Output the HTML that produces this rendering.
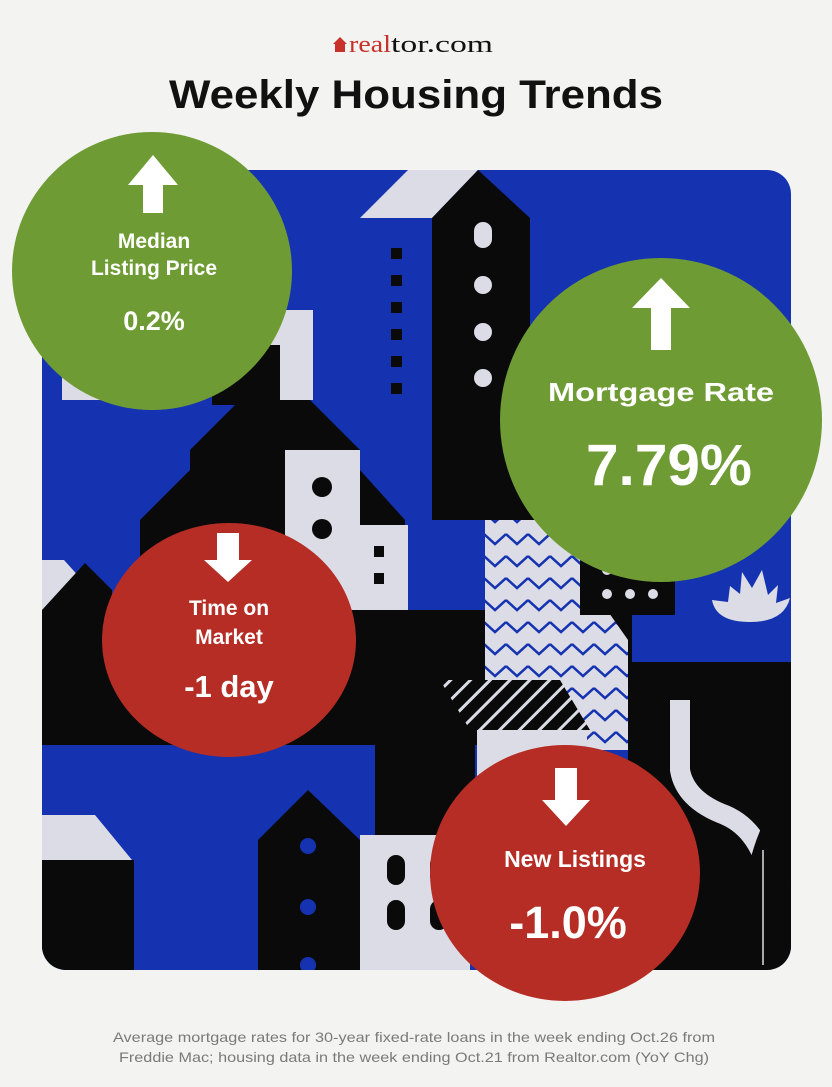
<!DOCTYPE html>
<html><head><meta charset="utf-8"><style>
html,body{margin:0;padding:0;background:#f3f3f1;}
svg{display:block}
</style></head><body>
<svg width="832" height="1087" viewBox="0 0 832 1087" xmlns="http://www.w3.org/2000/svg">
<rect width="832" height="1087" fill="#f3f3f1"/>
<path d="M333 44 L340 37 L347 44 L345 44 L345 52 L335 52 L335 44 Z" fill="#c8302a"/>
<text x="349" y="52" font-family="Liberation Serif, serif" font-size="24" fill="#c8302a" textLength="42" lengthAdjust="spacingAndGlyphs">real</text>
<text x="391" y="52" font-family="Liberation Serif, serif" font-size="24" fill="#111" textLength="102" lengthAdjust="spacingAndGlyphs">tor.com</text>
<text x="416" y="108" text-anchor="middle" font-family="Liberation Sans, sans-serif" font-weight="bold" font-size="40" fill="#111" textLength="494" lengthAdjust="spacingAndGlyphs">Weekly Housing Trends</text>

<defs><clipPath id="pc"><rect x="42" y="170" width="749" height="800" rx="24"/></clipPath>
<pattern id="zz" width="22" height="22" patternUnits="userSpaceOnUse"><rect width="22" height="22" fill="#dcdce6"/><path d="M0 6 L11 16 L22 6" stroke="#1533b0" stroke-width="2.5" fill="none"/></pattern>
<pattern id="st" width="14" height="14" patternUnits="userSpaceOnUse" patternTransform="rotate(45)"><rect width="14" height="14" fill="#0a0a0a"/><rect width="3" height="14" fill="#dcdce6"/></pattern>
</defs>
<g clip-path="url(#pc)">
<rect x="42" y="170" width="749" height="800" fill="#1533b0"/>
<polygon points="360,218 408,170 478,170 432,218" fill="#dcdce6"/>
<polygon points="432,218 478,170 530,218 530,520 432,520" fill="#0a0a0a"/>
<rect x="474" y="222" width="18" height="26" rx="9" fill="#dcdce6"/>
<circle cx="483" cy="285" r="9" fill="#dcdce6"/><circle cx="483" cy="332" r="9" fill="#dcdce6"/><circle cx="483" cy="378" r="9" fill="#dcdce6"/>
<g fill="#0a0a0a"><rect x="391" y="248" width="11" height="11"/><rect x="391" y="275" width="11" height="11"/><rect x="391" y="302" width="11" height="11"/><rect x="391" y="329" width="11" height="11"/><rect x="391" y="356" width="11" height="11"/><rect x="391" y="383" width="11" height="11"/></g>
<rect x="245" y="310" width="68" height="90" fill="#dcdce6"/>
<rect x="212" y="345" width="68" height="60" fill="#0a0a0a"/>
<rect x="62" y="370" width="60" height="30" fill="#dcdce6"/>
<polygon points="190,450 240,400 310,400 360,450 360,520 190,520" fill="#0a0a0a"/>
<rect x="285" y="450" width="75" height="160" fill="#dcdce6"/>
<polygon points="360,470 405,520 405,610 360,610" fill="#0a0a0a"/>
<rect x="360" y="525" width="48" height="85" fill="#dcdce6"/>
<circle cx="322" cy="487" r="10" fill="#0a0a0a"/><circle cx="322" cy="529" r="10" fill="#0a0a0a"/>
<rect x="374" y="546" width="10" height="11" fill="#0a0a0a"/><rect x="374" y="573" width="10" height="11" fill="#0a0a0a"/>
<polygon points="140,520 190,470 285,470 285,610 140,610" fill="#0a0a0a"/>
<polygon points="42,560 64,560 82,580 42,620" fill="#dcdce6"/>
<polygon points="42,610 85,563 112,590 112,745 42,745" fill="#0a0a0a"/>
<rect x="42" y="610" width="590" height="135" fill="#0a0a0a"/>
<rect x="530" y="380" width="120" height="140" fill="#0a0a0a"/>
<polygon points="485,520 600,520 600,600 628,640 628,750 485,750" fill="url(#zz)"/>
<rect x="580" y="545" width="95" height="70" fill="#0a0a0a"/>
<g fill="#dcdce6"><circle cx="607" cy="570" r="5"/><circle cx="630" cy="570" r="5"/><circle cx="653" cy="570" r="5"/><circle cx="607" cy="594" r="5"/><circle cx="630" cy="594" r="5"/><circle cx="653" cy="594" r="5"/></g>
<path d="M712 600 Q716 622 750 622 Q784 622 790 598 L776 603 L778 585 L768 595 L762 570 L752 588 L742 572 L740 594 L730 586 L728 602 Z" fill="#dcdce6"/>
<rect x="628" y="662" width="165" height="310" fill="#0a0a0a"/>
<path d="M680 700 L680 770 Q685 800 725 815 Q760 830 770 880 L775 970" stroke="#dcdce6" stroke-width="20" fill="none"/>
<path d="M765 820 Q795 880 785 970 L745 970 Q735 880 765 820Z" fill="#0a0a0a"/>
<line x1="763" y1="850" x2="763" y2="965" stroke="#dcdce6" stroke-width="1.5"/>
<polygon points="375,745 425,690 470,690 470,745" fill="#0a0a0a"/>
<polygon points="440,680 560,680 590,730 470,730" fill="url(#st)"/>
<rect x="420" y="730" width="50" height="100" fill="#0a0a0a"/>
<rect x="477" y="730" width="110" height="50" fill="#dcdce6"/>
<rect x="375" y="745" width="100" height="100" fill="#0a0a0a"/>
<polygon points="42,815 95,815 132,860 42,860" fill="#dcdce6"/>
<rect x="42" y="860" width="92" height="110" fill="#0a0a0a"/>
<polygon points="258,840 308,790 360,840 360,970 258,970" fill="#0a0a0a"/>
<circle cx="308" cy="846" r="8" fill="#1533b0"/><circle cx="308" cy="907" r="8" fill="#1533b0"/><circle cx="308" cy="965" r="8" fill="#1533b0"/>
<rect x="360" y="835" width="110" height="135" fill="#dcdce6"/>
<g fill="#0a0a0a"><rect x="387" y="855" width="18" height="30" rx="9"/><rect x="387" y="900" width="18" height="30" rx="9"/><rect x="430" y="855" width="18" height="30" rx="9"/><rect x="430" y="900" width="18" height="30" rx="9"/></g>
</g>

<ellipse cx="152" cy="271" rx="140" ry="139" fill="#6f9b34"/>
<ellipse cx="661" cy="420" rx="161" ry="162" fill="#6f9b34"/>
<ellipse cx="229" cy="640" rx="127" ry="117" fill="#b52d25"/>
<ellipse cx="565" cy="873" rx="135" ry="128" fill="#b52d25"/>

<g fill="#fff">
<polygon points="153,155 178,185 163,185 163,213 143,213 143,185 128,185"/>
<polygon points="661,278 690,308 671,308 671,350 651,350 651,308 632,308"/>
<polygon points="228,582 252,560 239,560 239,533 217,533 217,560 204,560"/>
<polygon points="566,826 590,800 577,800 577,768 555,768 555,800 542,800"/>
</g>
<g font-family="Liberation Sans, sans-serif" fill="#fff" text-anchor="middle" font-weight="bold">
<text x="154" y="248" font-size="21">Median</text>
<text x="154" y="275" font-size="21">Listing Price</text>
<text x="154" y="330" font-size="27">0.2%</text>
<text x="661" y="401" font-size="26" textLength="226" lengthAdjust="spacingAndGlyphs">Mortgage Rate</text>
<text x="669" y="485" font-size="58" textLength="166" lengthAdjust="spacingAndGlyphs">7.79%</text>
<text x="229" y="615" font-size="21">Time on</text>
<text x="229" y="644" font-size="21">Market</text>
<text x="229" y="697" font-size="31">-1 day</text>
<text x="575" y="867" font-size="23">New Listings</text>
<text x="568" y="938" font-size="45">-1.0%</text>
</g>
<g font-family="Liberation Sans, sans-serif" fill="#7a7a7a" font-size="14" text-anchor="middle">
<text x="414" y="1042" textLength="602" lengthAdjust="spacingAndGlyphs">Average mortgage rates for 30-year fixed-rate loans in the week ending Oct.26 from</text>
<text x="414" y="1062" textLength="590" lengthAdjust="spacingAndGlyphs">Freddie Mac; housing data in the week ending Oct.21 from Realtor.com (YoY Chg)</text>
</g>
</svg>
</body></html>
